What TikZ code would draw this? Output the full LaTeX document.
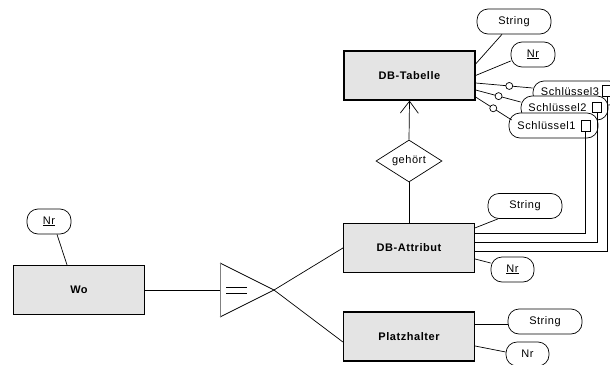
\documentclass[tikz,border=0pt]{standalone}
\usepackage{fontspec}
\setmainfont[LetterSpace=5]{Liberation Sans}
\usetikzlibrary{shapes.geometric,arrows.meta}
\definecolor{entfill}{RGB}{228,228,228}
\begin{document}
\begin{tikzpicture}[x=1pt,y=-1pt,line width=0.7pt,
  font=\fontsize{11}{13}\selectfont,
  ent/.style={draw, line width=1.2pt, fill=entfill, minimum width=131pt, minimum height=49pt, inner sep=0pt, font=\fontsize{11}{13}\selectfont\bfseries},
  attrib/.style={draw, fill=white, rounded corners=11pt, minimum height=25pt, inner sep=0pt},
  keysq/.style={draw, fill=white, inner sep=0pt, minimum width=9pt, minimum height=11pt},
  circ/.style={draw, circle, fill=white, inner sep=0pt, minimum size=7pt},
  rel/.style={draw, diamond, aspect=1.57, minimum width=66pt, minimum height=42pt, inner sep=0pt}]
\useasboundingbox (0,0) rectangle (610,364);
\clip (0,0) rectangle (610,364);
% entities
\node[ent] (tab) at (409.5,75.5) {DB-Tabelle};
\node[ent] (attr) at (409,248) {DB-Attribut};
\node[ent] (platz) at (409,336.5) {Platzhalter};
\node[ent] (wo) at (79,290) {Wo};
% relationship
\node[rel] (geh) at (409,161) {gehört};
% attributes
\node[attrib, minimum width=74pt] (str1) at (514,21.5) {String};
\node[attrib, minimum width=44pt] (nr1) at (533,54.5) {\underline{Nr}};
\node[attrib, minimum width=87pt, minimum height=24pt] (s3) at (576.5,93) {\raisebox{2pt}{Schlüssel3}\kern13pt};
\node[keysq] (k3) at (607,91) {};
\node[attrib, minimum width=87pt, minimum height=24pt] (s2) at (564.5,108) {Schlüssel2\kern14pt};
\node[keysq, minimum height=10pt] (k2) at (597,107.5) {};
\node[attrib, minimum width=89pt] (s1) at (553.5,125.5) {Schlüssel1\kern14pt};
\node[keysq] (k1) at (585.5,125.5) {};
\node[attrib, minimum width=74pt] (str2) at (525,206) {String};
\node[attrib, minimum width=43pt] (nr2) at (512.5,269.5) {\underline{Nr}};
\node[attrib, minimum width=74pt] (str3) at (545,321.5) {String};
\node[attrib, minimum width=43pt, minimum height=24pt] (nr3) at (527.5,354) {Nr};
\node[attrib, minimum width=44pt] (nrw) at (49,221.5) {\underline{Nr}};
% triangle (generalisation)
\coordinate (tb) at (220,290);
\coordinate (ap) at (274,290);
\draw (220,263) -- (ap) -- (220,317);
\draw[gray, line width=1pt] (220,263) -- (220,317);
\draw (226,287) -- (247,287) (226,293) -- (247,293);
% connectors
\draw (wo.east) -- (tb);
\draw (ap) -- (attr.west);
\draw (ap) -- ([yshift=-5.5pt]platz.west);
\draw[-{Straight Barb[length=12pt,width=18pt]}] (geh.north) -- (tab.south);
\draw (geh.south) -- (attr.north);
\draw ([yshift=11.5pt]tab.east) -- ([xshift=-12pt]str1.south);
\draw (tab.east) -- ([yshift=-6.5pt]nr1.west);
\draw ([yshift=-7.5pt]tab.east) -- node[circ, pos=0.59]{} ([yshift=5pt]s3.west);
\draw ([yshift=-14.5pt]tab.east) -- node[circ, pos=0.51]{} ([yshift=6pt]s2.west);
\draw ([yshift=-21.5pt]tab.east) -- node[circ, pos=0.49]{} ([xshift=3pt,yshift=5.5pt]s1.west);
\draw (k1.south) |- ([yshift=-10pt]attr.north east);
\draw (k2.south) |- ([yshift=-19pt]attr.north east);
\draw (k3.south) |- ([yshift=-28pt]attr.north east);
\draw ([yshift=-5pt]attr.north east) -- ([xshift=-27pt]str2.south);
\draw ([yshift=-11pt]attr.east) -- ([yshift=6.5pt]nr2.west);
\draw ([yshift=12.5pt]platz.east) -- ([yshift=-2.5pt]str3.west);
\draw ([yshift=-9.5pt]platz.east) -- ([yshift=2pt]nr3.west);
\draw ([xshift=8pt]nrw.south) -- ([xshift=-12pt]wo.north);
\end{tikzpicture}
\end{document}
